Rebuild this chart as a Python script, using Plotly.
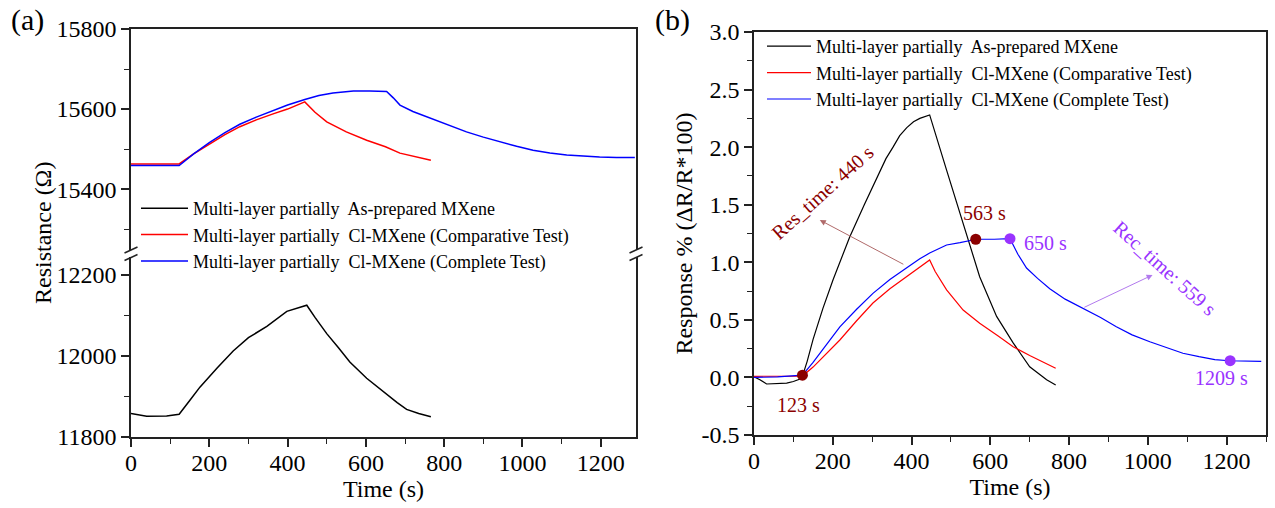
import plotly.graph_objects as go

# ---------------- data ----------------
# (a) resistance, upper segment (Cl-MXene)
ra_red_t = [0, 60, 123, 160, 200, 240, 278, 320, 363, 400, 444, 470, 500, 550, 602, 650, 687, 730, 766]
ra_red_v = [15463, 15463, 15463, 15488, 15512, 15536, 15556, 15573, 15588, 15600, 15618, 15592, 15568, 15543,
            15522, 15506, 15490, 15481, 15472]
ra_blue_t = [0, 60, 123, 160, 200, 240, 278, 320, 363, 400, 444, 480, 516, 568, 610, 653, 670, 687, 720, 755,
             800, 857, 900, 942, 985, 1027, 1070, 1113, 1155, 1197, 1240, 1287]
ra_blue_v = [15459, 15459, 15459, 15488, 15516, 15541, 15562, 15580, 15596, 15610, 15624, 15634, 15640, 15645,
             15645, 15644, 15628, 15610, 15594, 15581, 15564, 15543, 15530, 15518, 15507, 15497, 15490, 15485,
             15482, 15480, 15479, 15479]
# (a) resistance, lower segment (as-prepared)
ra_blk_t = [0, 40, 91, 123, 150, 176, 220, 261, 300, 347, 398, 430, 449, 470, 500, 530, 559, 602, 644, 680,
            704, 735, 766]
ra_blk_v = [11858, 11851, 11852, 11856, 11890, 11923, 11970, 12012, 12045, 12073, 12110, 12120, 12125, 12095,
            12055, 12020, 11985, 11945, 11912, 11885, 11868, 11858, 11850]
ya_up_ticks = [15400, 15600, 15800]
ya_lo_ticks = [11800, 12000, 12200]

# (b) response
rb_blk_t = [0, 15, 32, 60, 83, 100, 117, 123, 135, 150, 175, 201, 222, 243, 280, 311, 335, 353, 370, 388, 405,
            421, 435, 446, 489, 531, 573, 616, 658, 700, 743, 766]
rb_blk_v = [0.006, -0.02, -0.057, -0.055, -0.05, -0.035, -0.014, 0.01, 0.14, 0.33, 0.60, 0.85, 1.04, 1.22, 1.50,
            1.73, 1.90, 2.00, 2.10, 2.17, 2.22, 2.25, 2.27, 2.28, 1.80, 1.34, 0.875, 0.53, 0.30, 0.093, -0.02,
            -0.066]
rb_red_t = [0, 60, 123, 150, 218, 260, 302, 345, 388, 420, 446, 460, 489, 531, 573, 620, 658, 700, 735, 766]
rb_red_v = [0.01, 0.012, 0.012, 0.09, 0.325, 0.49, 0.646, 0.77, 0.875, 0.95, 1.02, 0.92, 0.76, 0.585, 0.47, 0.36,
            0.267, 0.19, 0.13, 0.08]
rb_blue_t = [0, 60, 123, 150, 218, 260, 302, 345, 387, 421, 446, 489, 523, 565, 610, 650, 670, 692, 720, 751,
             790, 835, 880, 920, 960, 1005, 1045, 1089, 1130, 1170, 1207, 1250, 1288]
rb_blue_v = [0.0, 0.005, 0.02, 0.13, 0.44, 0.59, 0.73, 0.85, 0.95, 1.03, 1.08, 1.15, 1.17, 1.20, 1.20, 1.205,
             1.07, 0.95, 0.86, 0.77, 0.68, 0.60, 0.52, 0.44, 0.37, 0.31, 0.26, 0.21, 0.18, 0.155, 0.145, 0.14,
             0.14]
yb_ticks = [-0.5, 0.0, 0.5, 1.0, 1.5, 2.0, 2.5, 3.0]
yb_ticktext = ["-0.5", "0.0", "0.5", "1.0", "1.5", "2.0", "2.5", "3.0"]

res_pts_t = [123, 563]
res_pts_v = [0.02, 1.20]
rec_pts_t = [650, 1209]
rec_pts_v = [1.205, 0.145]

names = ["Multi-layer partially\u00a0 As-prepared MXene",
         "Multi-layer partially\u00a0 Cl-MXene (Comparative Test)",
         "Multi-layer partially\u00a0 Cl-MXene (Complete Test)"]

# ---------------- layout helpers ----------------
W, H = 1275, 508
def px_x(p):
    return p / W
def px_y(p):
    return 1 - p / H

FONT = "Liberation Serif, Times New Roman, serif"
DARKRED = "#8B0000"
PURPLE = "#9933FF"
LW = 1.5

fig = go.Figure()

# (a) traces
fig.add_trace(go.Scatter(x=ra_blk_t, y=ra_blk_v, mode="lines", line=dict(color="black", width=LW),
                         name=names[0], xaxis="x", yaxis="y", legend="legend"))
fig.add_trace(go.Scatter(x=ra_red_t, y=ra_red_v, mode="lines", line=dict(color="#FF0000", width=LW),
                         name=names[1], xaxis="x2", yaxis="y2", legend="legend"))
fig.add_trace(go.Scatter(x=ra_blue_t, y=ra_blue_v, mode="lines", line=dict(color="#0000FF", width=LW),
                         name=names[2], xaxis="x2", yaxis="y2", legend="legend"))
# (b) traces
fig.add_trace(go.Scatter(x=rb_blk_t, y=rb_blk_v, mode="lines", line=dict(color="black", width=1.2),
                         name=names[0], xaxis="x3", yaxis="y3", legend="legend2"))
fig.add_trace(go.Scatter(x=rb_red_t, y=rb_red_v, mode="lines", line=dict(color="#FF0000", width=1.2),
                         name=names[1], xaxis="x3", yaxis="y3", legend="legend2"))
fig.add_trace(go.Scatter(x=rb_blue_t, y=rb_blue_v, mode="lines", line=dict(color="#0000FF", width=1.2),
                         name=names[2], xaxis="x3", yaxis="y3", legend="legend2"))
fig.add_trace(go.Scatter(x=res_pts_t, y=res_pts_v, mode="markers", marker=dict(color=DARKRED, size=11),
                         showlegend=False, xaxis="x3", yaxis="y3"))
fig.add_trace(go.Scatter(x=rec_pts_t, y=rec_pts_v, mode="markers", marker=dict(color=PURPLE, size=11),
                         showlegend=False, xaxis="x3", yaxis="y3"))

tickfont = dict(family=FONT, size=24, color="black")
axcommon = dict(showline=True, linecolor="#222", linewidth=1.5, ticks="outside", ticklen=8, tickwidth=1.5,
                tickcolor="#222", tickfont=tickfont, showgrid=False, zeroline=False, automargin=False)
minor_x = dict(dtick=100, ticks="outside", ticklen=5, tickwidth=1.2, tickcolor="#222", showgrid=False)
minor_ya = dict(dtick=100, ticks="outside", ticklen=5, tickwidth=1.2, tickcolor="#222", showgrid=False)

xa_dom = [px_x(131), px_x(636)]
xb_dom = [px_x(754), px_x(1266)]

fig.update_layout(
    width=W, height=H, margin=dict(l=0, r=0, t=0, b=0, pad=0, autoexpand=False),
    paper_bgcolor="white", plot_bgcolor="white",
    font=dict(family=FONT, color="black"),
    xaxis=dict(domain=xa_dom, range=[0, 1290], anchor="y", dtick=200, minor=minor_x, ticklabelstandoff=-5,
               title=dict(text="Time (s)", font=dict(family=FONT, size=24), standoff=0), **axcommon),
    yaxis=dict(domain=[px_y(437), px_y(257)], range=[11800, 12244], anchor="x", tickvals=ya_lo_ticks,
               ticktext=[str(v) for v in ya_lo_ticks], mirror=True, minor=minor_ya, **axcommon),
    xaxis2=dict(domain=xa_dom, range=[0, 1290], anchor="y2", side="top", showline=True, linecolor="#222",
                linewidth=1.5, showticklabels=False, ticks="", showgrid=False, zeroline=False,
                automargin=False),
    yaxis2=dict(domain=[px_y(250), px_y(29)], range=[15248, 15800], anchor="x2", tickvals=ya_up_ticks,
                ticktext=[str(v) for v in ya_up_ticks], mirror=True, minor=minor_ya, **axcommon),
    xaxis3=dict(domain=xb_dom, range=[0, 1300], anchor="y3", dtick=200, mirror=True, minor=minor_x,
                ticklabelstandoff=-5,
                title=dict(text="Time (s)", font=dict(family=FONT, size=24), standoff=0), **axcommon),
    yaxis3=dict(domain=[px_y(435), px_y(32)], range=[-0.5, 3.0], anchor="x3", tickvals=yb_ticks,
                ticktext=yb_ticktext, mirror=True,
                minor=dict(dtick=0.25, ticks="outside", ticklen=5, tickwidth=1.2, tickcolor="#222"),
                title=dict(text="Response % (ΔR/R*100)", font=dict(family=FONT, size=24), standoff=2),
                **axcommon),
    legend=dict(x=px_x(136), y=px_y(190), xanchor="left", yanchor="top", bgcolor="rgba(0,0,0,0)",
                font=dict(family=FONT, size=18, color="black"), itemwidth=47, tracegroupgap=0),
    legend2=dict(x=px_x(762), y=px_y(28), xanchor="left", yanchor="top", bgcolor="rgba(0,0,0,0)",
                 font=dict(family=FONT, size=18, color="black"), itemwidth=44, tracegroupgap=0),
    showlegend=True,
)

ann = []
# panel labels
ann.append(dict(text="(a)", x=px_x(27), y=px_y(20), xref="paper", yref="paper", showarrow=False,
                xanchor="center", yanchor="middle", font=dict(family=FONT, size=30, color="black")))
ann.append(dict(text="(b)", x=px_x(672), y=px_y(20), xref="paper", yref="paper", showarrow=False,
                xanchor="center", yanchor="middle", font=dict(family=FONT, size=30, color="black")))
# left y title spanning both segments
ann.append(dict(text="Resistance (Ω)", x=px_x(43), y=px_y(233), xref="paper", yref="paper", showarrow=False,
                xanchor="center", yanchor="middle", textangle=-90,
                font=dict(family=FONT, size=24, color="black")))
# point labels
lab = dict(xref="x3", yref="y3", showarrow=False, xanchor="center", yanchor="middle")
ann.append(dict(text="123 s", x=112, y=-0.24, font=dict(family=FONT, size=20, color=DARKRED), **lab))
ann.append(dict(text="563 s", x=586, y=1.43, font=dict(family=FONT, size=20, color=DARKRED), **lab))
ann.append(dict(text="650 s", x=741, y=1.167, font=dict(family=FONT, size=20, color=PURPLE), **lab))
ann.append(dict(text="1209 s", x=1187, y=-0.005, font=dict(family=FONT, size=20, color=PURPLE), **lab))
ann.append(dict(text="Res_time: 440 s", x=175, y=1.61, textangle=-42,
                font=dict(family=FONT, size=20, color=DARKRED), **lab))
ann.append(dict(text="Rec_time: 559 s", x=1043, y=0.95, textangle=42,
                font=dict(family=FONT, size=20, color=PURPLE), **lab))
# arrows
ann.append(dict(x=167, y=1.367, ax=383, ay=0.976, xref="x3", yref="y3", axref="x3", ayref="y3", text="",
                showarrow=True, arrowhead=2, arrowsize=1.2, arrowwidth=1, arrowcolor="#B06A6A"))
ann.append(dict(x=1012, y=0.89, ax=835, ay=0.603, xref="x3", yref="y3", axref="x3", ayref="y3", text="",
                showarrow=True, arrowhead=2, arrowsize=1.2, arrowwidth=1, arrowcolor="#B27AEE"))
fig.update_layout(annotations=ann)

# axis-break marks
shapes = []
for bx in (131, 636):
    for by in (250, 257.5):
        shapes.append(dict(type="line", xref="paper", yref="paper",
                           x0=px_x(bx - 6.5), y0=px_y(by + 3), x1=px_x(bx + 6.5), y1=px_y(by - 3),
                           line=dict(color="#222", width=1.5)))
fig.update_layout(shapes=shapes)

fig.write_html("out.html")
